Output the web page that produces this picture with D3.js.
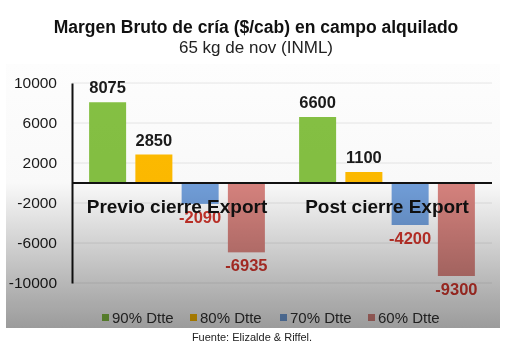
<!DOCTYPE html>
<html>
<head>
<meta charset="utf-8">
<script src="https://cdn.jsdelivr.net/npm/d3@7"></script>
<style>
  body { margin: 0; background: #fff; }
  svg { display: block; font-family: "Liberation Sans", Arial, sans-serif; }
</style>
</head>
<body>
<svg id="s" width="512" height="352"></svg>
<script>
const groups = ['Previo cierre Export', 'Post cierre Export'];
const series = ['90% Dtte', '80% Dtte', '70% Dtte', '60% Dtte'];
const previo = [8075, 2850, -2090, -6935];
const post = [6600, 1100, -4200, -9300];
const colors = ['#85c143', '#ffbb00', '#72a0dc', '#d9847f'];
const yTicks = [10000, 6000, 2000, -2000, -6000, -10000];

const svg = d3.select('#s');
const values = [previo, post];

// gradient panel behind the chart
const defs = svg.append('defs');
const grad = defs.append('linearGradient')
  .attr('id', 'shade')
  .attr('x1', 0).attr('y1', 0).attr('x2', 0).attr('y2', 1);
grad.append('stop').attr('offset', '0%').attr('stop-color', '#ffffff');
grad.append('stop').attr('offset', '45%').attr('stop-color', '#fbfbfb');
grad.append('stop').attr('offset', '100%').attr('stop-color', '#9c9c9c');

svg.append('rect')
  .attr('x', 6).attr('y', 64)
  .attr('width', 494).attr('height', 264)
  .attr('fill', '#fdfdfd');

// title
svg.append('text')
  .attr('x', 256).attr('y', 33)
  .attr('text-anchor', 'middle')
  .attr('font-size', 17.5).attr('font-weight', 'bold').attr('fill', '#111')
  .text('Margen Bruto de cría ($/cab) en campo alquilado');
svg.append('text')
  .attr('x', 256).attr('y', 53)
  .attr('text-anchor', 'middle')
  .attr('font-size', 17).attr('fill', '#222')
  .text('65 kg de nov (INML)');

const y = d3.scaleLinear().domain([-10000, 10000]).range([283, 83]);
const x0 = d3.scaleBand().domain(groups).range([72, 492]);
const x1 = d3.scaleBand().domain(series).range([0, x0.bandwidth()])
  .paddingInner(0.2).paddingOuter(0.37);

// gridlines
svg.append('g')
  .selectAll('line')
  .data(yTicks)
  .join('line')
  .attr('x1', 72).attr('x2', 492)
  .attr('y1', d => y(d)).attr('y2', d => y(d))
  .attr('stroke', '#e6e6e6');

// y axis
const yAxis = svg.append('g')
  .attr('transform', 'translate(72,0)')
  .call(d3.axisLeft(y).tickValues(yTicks).tickSize(0).tickPadding(15).tickFormat(d => String(d)));
yAxis.select('.domain').attr('stroke', '#111').attr('stroke-width', 2);
yAxis.selectAll('text')
  .attr('font-size', 15.5).attr('fill', '#1a1a1a')
  .attr('font-family', '"Liberation Sans", Arial, sans-serif');

// bars
const g = svg.append('g')
  .selectAll('g')
  .data(groups)
  .join('g')
  .attr('transform', d => `translate(${x0(d)},0)`);

g.selectAll('rect')
  .data((d, i) => values[i].map((v, j) => ({ v, s: series[j], c: colors[j] })))
  .join('rect')
  .attr('x', d => x1(d.s))
  .attr('width', x1.bandwidth())
  .attr('y', d => y(Math.max(0, d.v)))
  .attr('height', d => Math.abs(y(d.v) - y(0)))
  .attr('fill', d => d.c);

// value labels
g.selectAll('text.val')
  .data((d, i) => values[i].map((v, j) => ({ v, s: series[j] })))
  .join('text')
  .attr('class', 'val')
  .attr('x', d => x1(d.s) + x1.bandwidth() / 2)
  .attr('y', d => d.v >= 0 ? y(d.v) - 9 : y(d.v) + 19)
  .attr('text-anchor', 'middle')
  .attr('font-size', 16.5).attr('font-weight', 'bold')
  .attr('fill', d => d.v >= 0 ? '#1a1a1a' : '#d0352c')
  .text(d => d.v);

// zero line
svg.append('line')
  .attr('x1', 72).attr('x2', 492)
  .attr('y1', y(0)).attr('y2', y(0))
  .attr('stroke', '#111').attr('stroke-width', 2);

// category labels inside the plot
svg.append('g')
  .selectAll('text')
  .data(groups)
  .join('text')
  .attr('x', d => x0(d) + x0.bandwidth() / 2)
  .attr('y', 213)
  .attr('text-anchor', 'middle')
  .attr('font-size', 19).attr('font-weight', 'bold').attr('fill', '#111')
  .text(d => d);

// legend
const lx = [102, 190, 280, 368];
const leg = svg.append('g')
  .selectAll('g')
  .data(series)
  .join('g')
  .attr('transform', (d, i) => `translate(${lx[i]},318)`);
leg.append('rect')
  .attr('x', 0).attr('y', -4)
  .attr('width', 7).attr('height', 7)
  .attr('fill', (d, i) => colors[i]);
leg.append('text')
  .attr('x', 10).attr('y', 5)
  .attr('font-size', 15).attr('fill', '#333')
  .text(d => d);

// shading overlay
svg.append('rect')
  .attr('x', 6).attr('y', 64)
  .attr('width', 494).attr('height', 264)
  .attr('fill', 'url(#shade)')
  .style('mix-blend-mode', 'multiply');

// source
svg.append('text')
  .attr('x', 252).attr('y', 341)
  .attr('text-anchor', 'middle')
  .attr('font-size', 11).attr('fill', '#222')
  .text('Fuente: Elizalde & Riffel.');
</script>
</body>
</html>
